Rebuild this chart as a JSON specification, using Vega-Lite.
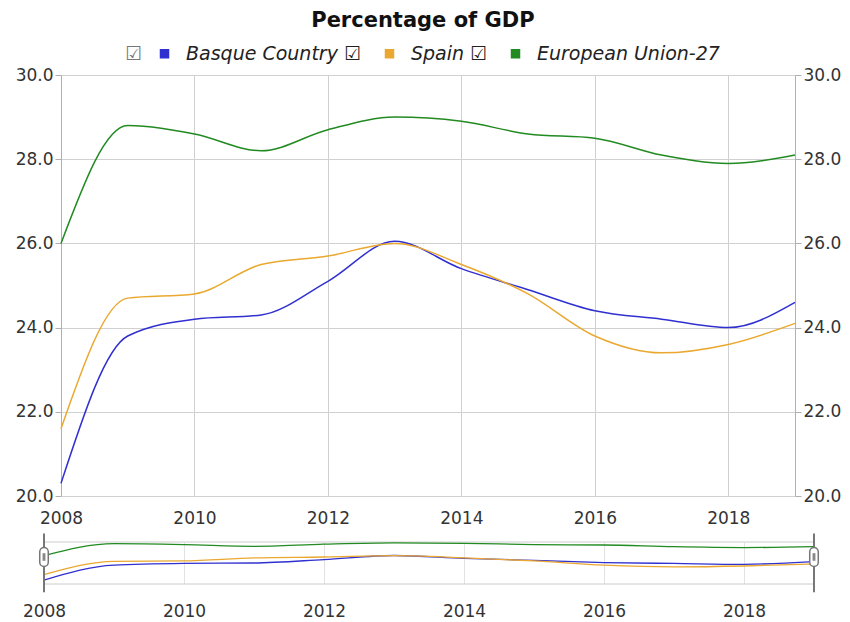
{
  "$schema": "https://vega.github.io/schema/vega-lite/v6.json",
  "background": "white",
  "padding": {"left": 5, "top": 10, "right": 0, "bottom": 0},
  "title": {"text": "Percentage of GDP", "fontSize": 21, "font": "DejaVu Sans", "fontWeight": "bold", "color": "#111", "anchor": "middle", "offset": 13},
  "config": {
    "font": "DejaVu Sans",
    "view": {"stroke": null},
    "axis": {"labelFont": "DejaVu Sans", "labelFontSize": 17, "labelColor": "#333", "gridColor": "#d0d0d0", "domainColor": "#b0b0b0", "tickColor": "#b0b0b0", "title": null},
    "legend": {"layout": {"top": {"anchor": "middle"}}}
  },
  "datasets": {
    "gdp": [
      {"series": "Basque Country", "year": 2008, "value": 20.3},
      {"series": "Basque Country", "year": 2009, "value": 23.8},
      {"series": "Basque Country", "year": 2010, "value": 24.2},
      {"series": "Basque Country", "year": 2011, "value": 24.3},
      {"series": "Basque Country", "year": 2012, "value": 25.1},
      {"series": "Basque Country", "year": 2013, "value": 26.05},
      {"series": "Basque Country", "year": 2014, "value": 25.4},
      {"series": "Basque Country", "year": 2015, "value": 24.9},
      {"series": "Basque Country", "year": 2016, "value": 24.4},
      {"series": "Basque Country", "year": 2017, "value": 24.2},
      {"series": "Basque Country", "year": 2018, "value": 24.0},
      {"series": "Basque Country", "year": 2019, "value": 24.6},
      {"series": "Spain", "year": 2008, "value": 21.6},
      {"series": "Spain", "year": 2009, "value": 24.7},
      {"series": "Spain", "year": 2010, "value": 24.8},
      {"series": "Spain", "year": 2011, "value": 25.5},
      {"series": "Spain", "year": 2012, "value": 25.7},
      {"series": "Spain", "year": 2013, "value": 26.0},
      {"series": "Spain", "year": 2014, "value": 25.5},
      {"series": "Spain", "year": 2015, "value": 24.8},
      {"series": "Spain", "year": 2016, "value": 23.8},
      {"series": "Spain", "year": 2017, "value": 23.4},
      {"series": "Spain", "year": 2018, "value": 23.6},
      {"series": "Spain", "year": 2019, "value": 24.1},
      {"series": "European Union-27", "year": 2008, "value": 26.0},
      {"series": "European Union-27", "year": 2009, "value": 28.8},
      {"series": "European Union-27", "year": 2010, "value": 28.6},
      {"series": "European Union-27", "year": 2011, "value": 28.2},
      {"series": "European Union-27", "year": 2012, "value": 28.7},
      {"series": "European Union-27", "year": 2013, "value": 29.0},
      {"series": "European Union-27", "year": 2014, "value": 28.9},
      {"series": "European Union-27", "year": 2015, "value": 28.6},
      {"series": "European Union-27", "year": 2016, "value": 28.5},
      {"series": "European Union-27", "year": 2017, "value": 28.1},
      {"series": "European Union-27", "year": 2018, "value": 27.9},
      {"series": "European Union-27", "year": 2019, "value": 28.1}
    ],
    "handles": [{"year": 2008}, {"year": 2019}]
  },
  "spacing": 6,
  "vconcat": [
    {
      "width": 734,
      "height": 421,
      "layer": [
        {
          "data": {"name": "gdp"},
          "mark": {"type": "line", "interpolate": "monotone", "strokeWidth": 1.5},
          "encoding": {
            "x": {"field": "year", "type": "quantitative",
              "scale": {"domain": [2008, 2019], "nice": false, "zero": false},
              "axis": {"values": [2008, 2010, 2012, 2014, 2016, 2018], "format": "d", "ticks": false, "domain": false, "grid": true, "labelPadding": 14, "labelFlush": false}},
            "y": {"field": "value", "type": "quantitative",
              "scale": {"domain": [20, 30], "nice": false, "zero": false},
              "axis": {"orient": "left", "values": [20, 22, 24, 26, 28, 30], "format": ".1f", "grid": true, "tickSize": 6, "labelPadding": 2, "minExtent": 56, "maxExtent": 56}},
            "color": {"field": "series", "type": "nominal",
              "scale": {"domain": ["Basque Country", "Spain", "European Union-27"], "range": ["#3030d0", "#eaa830", "#218a21"]},
              "legend": {"orient": "top", "direction": "horizontal", "title": "☑", "titleOrient": "left", "titleFontSize": 19, "titleFontWeight": "normal", "titleColor": "#777", "titlePadding": 12,
                "symbolType": "square", "symbolSize": 64, "labelFontSize": 19, "labelFontStyle": "italic", "labelColor": "#222", "labelFont": "DejaVu Sans", "labelLimit": 400, "labelOffset": 12,
                "labelExpr": "datum.label == 'European Union-27' ? datum.label : datum.label + '  ☑'", "columnPadding": 12, "offset": 2,
                "encode": {"symbols": {"update": {"fill": {"scale": "color", "field": "value"}, "stroke": {"value": "transparent"}, "shape": {"value": "square"}}}}}}
          }
        },
        {
          "data": {"name": "gdp"},
          "mark": {"type": "rule", "opacity": 0},
          "encoding": {
            "y": {"field": "value", "type": "quantitative",
              "axis": {"orient": "right", "values": [20, 22, 24, 26, 28, 30], "format": ".1f", "grid": false, "tickSize": 6, "labelPadding": 2}}
          }
        }
      ],
      "resolve": {"axis": {"y": "independent"}}
    },
    {
      "width": 753,
      "height": 42,
      "layer": [
        {
          "data": {"values": [{}]},
          "mark": {"type": "rule", "color": "#cccccc", "strokeWidth": 1},
          "encoding": {
            "x": {"datum": 2008, "type": "quantitative"},
            "x2": {"datum": 2019},
            "y": {"datum": 29.2, "type": "quantitative"}
          }
        },
        {
          "data": {"values": [{}]},
          "mark": {"type": "rule", "color": "#cccccc", "strokeWidth": 1},
          "encoding": {
            "x": {"datum": 2008, "type": "quantitative"},
            "x2": {"datum": 2019},
            "y": {"datum": 19.4, "type": "quantitative"}
          }
        },
        {
          "data": {"name": "gdp"},
          "mark": {"type": "line", "interpolate": "monotone", "strokeWidth": 1.3},
          "encoding": {
            "x": {"field": "year", "type": "quantitative",
              "scale": {"domain": [2008, 2019], "nice": false, "zero": false, "range": [-17, 753]},
              "axis": {"values": [2008, 2010, 2012, 2014, 2016, 2018], "format": "d", "ticks": false, "domain": false, "grid": true, "gridColor": "#e2e2e2", "labelPadding": 19, "labelFlush": false}},
            "y": {"field": "value", "type": "quantitative",
              "scale": {"domain": [19.4, 29.2], "nice": false, "zero": false},
              "axis": null},
            "color": {"field": "series", "type": "nominal", "legend": null}
          }
        },
        {
          "data": {"name": "handles"},
          "mark": {"type": "rule", "color": "#777777", "strokeWidth": 2},
          "encoding": {
            "x": {"field": "year", "type": "quantitative"},
            "y": {"datum": 31.2},
            "y2": {"datum": 17.5}
          }
        },
        {
          "data": {"name": "handles"},
          "mark": {"type": "point", "shape": "M-0.45,-0.55 A0.45,0.45 0 0 1 0.45,-0.55 L0.45,0.55 A0.45,0.45 0 0 1 -0.45,0.55 Z", "filled": true, "fill": "#ffffff", "stroke": "#777777", "strokeWidth": 1.5, "size": 361, "opacity": 1},
          "encoding": {
            "x": {"field": "year", "type": "quantitative"},
            "y": {"datum": 25.7}
          }
        },
        {
          "data": {"name": "handles"},
          "mark": {"type": "point", "shape": "M-0.15,-0.4 L0.15,-0.4 L0.15,0.4 L-0.15,0.4 Z", "filled": true, "color": "#888888", "size": 361, "opacity": 1},
          "encoding": {
            "x": {"field": "year", "type": "quantitative"},
            "y": {"datum": 25.7}
          }
        }
      ]
    }
  ]
}
